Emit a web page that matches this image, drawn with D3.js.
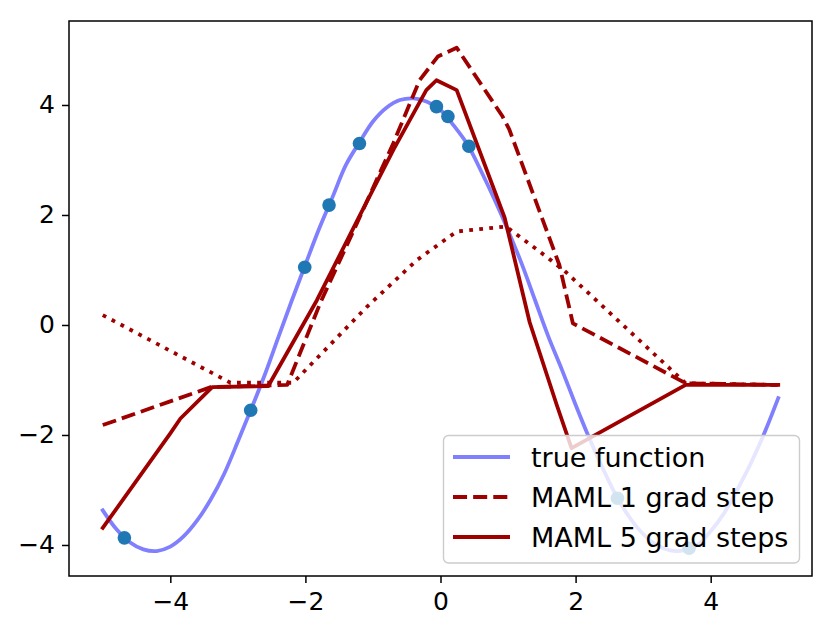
<!DOCTYPE html>
<html>
<head>
<meta charset="utf-8">
<script src="https://cdn.jsdelivr.net/npm/d3@7"></script>
<style>
  body { margin: 0; background: #fff; }
  text { font-family: "DejaVu Sans", sans-serif; fill: #000; }
</style>
</head>
<body>
<div id="chart"></div>
<script>
// true function
const trueX = [-5.0, -4.8, -4.6, -4.4, -4.2, -4.0, -3.8, -3.6, -3.4, -3.2, -3.0, -2.8, -2.6, -2.4, -2.2,
  -2.0, -1.8, -1.6, -1.4, -1.2, -1.0, -0.8, -0.6, -0.4, -0.2, 0.0, 0.2, 0.4, 0.6, 0.8, 1.0, 1.2,
  1.4, 1.6, 1.8, 2.0, 2.2, 2.4, 2.6, 2.8, 3.0, 3.2, 3.4, 3.6, 3.8, 4.0, 4.2, 4.4, 4.6, 4.8, 5.0];
const trueY = [-3.37, -3.71, -3.95, -4.08, -4.11, -4.03, -3.84, -3.55, -3.17, -2.70, -2.12, -1.52, -0.90, -0.22, 0.45,
  1.10, 1.74, 2.32, 2.91, 3.32, 3.70, 3.95, 4.09, 4.12, 4.06, 3.91, 3.62, 3.28, 2.80, 2.28, 1.72, 1.12,
  0.45, -0.22, -0.82, -1.45, -2.05, -2.60, -3.10, -3.50, -3.80, -4.00, -4.10, -4.10, -4.00, -3.75, -3.42,
  -2.98, -2.50, -1.95, -1.33];

// sampled points
const pointsX = [-4.68, -2.81, -2.01, -1.65, -1.20, -0.06, 0.11, 0.42, 2.62, 3.68];
const pointsY = [-3.87, -1.55, 1.05, 2.18, 3.30, 3.97, 3.79, 3.25, -3.15, -4.06];

// pre-update (dotted)
const preX = [-5.0, -3.11, -2.18, -1.09, -0.35, 0.24, 0.97, 1.57, 1.84, 3.63, 5.0];
const preY = [0.18, -1.05, -1.05, 0.33, 1.18, 1.70, 1.79, 1.24, 0.98, -1.06, -1.09];

// MAML 1 grad step (dashed)
const step1X = [-5.0, -3.40, -2.27, -1.78, -1.20, -0.70, -0.31, -0.04, 0.24, 0.92, 1.02, 1.76, 1.96, 3.63, 5.0];
const step1Y = [-1.82, -1.13, -1.09, 0.40, 1.95, 3.30, 4.45, 4.88, 5.04, 3.79, 3.55, 1.09, 0.03, -1.06, -1.09];

// MAML 5 grad steps (solid)
const step5X = [-5.0, -4.0, -3.85, -3.38, -2.55, -1.83, -1.20, -0.70, -0.21, -0.06, 0.24, 0.95, 1.32, 1.72, 1.94, 3.63, 5.0];
const step5Y = [-3.69, -1.97, -1.70, -1.13, -1.11, 0.45, 1.98, 3.18, 4.27, 4.45, 4.27, 1.95, 0.05, -1.45, -2.24, -1.09, -1.09];

const xTicks = [-4, -2, 0, 2, 4];
const yTicks = [-4, -2, 0, 2, 4];
const legendLabels = ['true function', 'MAML 1 grad step', 'MAML 5 grad steps'];

const width = 836, height = 633;
const margin = { top: 21, right: 24, bottom: 57, left: 69 };
const red = '#9e0000';
const lw = 3.8;

const svg = d3.select('#chart').append('svg')
  .attr('width', width).attr('height', height);

const x = d3.scaleLinear().domain([-5.5, 5.5]).range([margin.left, width - margin.right]);
const y = d3.scaleLinear().domain([-4.564, 5.527]).range([height - margin.bottom, margin.top]);

const zip = (xs, ys) => xs.map((v, i) => [v, ys[i]]);
const line = d3.line().x(d => x(d[0])).y(d => y(d[1]));
const smooth = d3.line().x(d => x(d[0])).y(d => y(d[1])).curve(d3.curveCatmullRom);

const plot = svg.append('g');

plot.append('path').attr('d', smooth(zip(trueX, trueY)))
  .attr('fill', 'none').attr('stroke', '#8080ff').attr('stroke-width', lw)
  .attr('stroke-linecap', 'square').attr('stroke-linejoin', 'round');

plot.append('path').attr('d', line(zip(preX, preY)))
  .attr('fill', 'none').attr('stroke', red).attr('stroke-width', lw)
  .attr('stroke-dasharray', `${lw} ${lw * 1.65}`).attr('stroke-linejoin', 'round');

plot.append('path').attr('d', line(zip(step1X, step1Y)))
  .attr('fill', 'none').attr('stroke', red).attr('stroke-width', lw)
  .attr('stroke-dasharray', `${lw * 3.7} ${lw * 1.6}`).attr('stroke-linejoin', 'round');

plot.append('path').attr('d', line(zip(step5X, step5Y)))
  .attr('fill', 'none').attr('stroke', red).attr('stroke-width', lw)
  .attr('stroke-linecap', 'square').attr('stroke-linejoin', 'round');

plot.selectAll('circle.pt').data(zip(pointsX, pointsY)).join('circle')
  .attr('class', 'pt')
  .attr('cx', d => x(d[0])).attr('cy', d => y(d[1])).attr('r', 6.8)
  .attr('fill', '#1f77b4');

// frame
svg.append('rect')
  .attr('x', margin.left).attr('y', margin.top)
  .attr('width', width - margin.left - margin.right)
  .attr('height', height - margin.top - margin.bottom)
  .attr('fill', 'none').attr('stroke', '#000').attr('stroke-width', 1.5);

// axes
const xAxis = svg.append('g')
  .attr('transform', `translate(0,${height - margin.bottom})`)
  .call(d3.axisBottom(x).tickValues(xTicks).tickSize(7).tickPadding(9)
    .tickFormat(d => d < 0 ? '\u2212' + Math.abs(d) : d));
const yAxis = svg.append('g')
  .attr('transform', `translate(${margin.left},0)`)
  .call(d3.axisLeft(y).tickValues(yTicks).tickSize(7).tickPadding(7)
    .tickFormat(d => d < 0 ? '\u2212' + Math.abs(d) : d));

[xAxis, yAxis].forEach(a => {
  a.select('.domain').remove();
  a.selectAll('line').attr('stroke', '#000').attr('stroke-width', 1.5);
  a.selectAll('text').attr('font-family', '"DejaVu Sans", sans-serif')
    .attr('font-size', 25).attr('fill', '#000');
});

// legend
const lg = svg.append('g');
lg.append('rect')
  .attr('x', 443.5).attr('y', 435.5).attr('width', 356).attr('height', 127.5)
  .attr('rx', 5).attr('fill', '#fff').attr('fill-opacity', 0.8)
  .attr('stroke', '#cccccc').attr('stroke-width', 1.4);

const legendStyles = [
  { color: '#8080ff', dash: null },
  { color: red, dash: `${lw * 3.7} ${lw * 1.6}` },
  { color: red, dash: null },
];
const rowY = [457, 497, 537];

legendLabels.forEach((label, i) => {
  lg.append('line')
    .attr('x1', 453).attr('x2', 510).attr('y1', rowY[i]).attr('y2', rowY[i])
    .attr('stroke', legendStyles[i].color).attr('stroke-width', lw)
    .attr('stroke-dasharray', legendStyles[i].dash);
  lg.append('text')
    .attr('x', 531).attr('y', rowY[i]).attr('dy', '0.36em')
    .attr('font-size', 27).text(label);
});
</script>
</body>
</html>
